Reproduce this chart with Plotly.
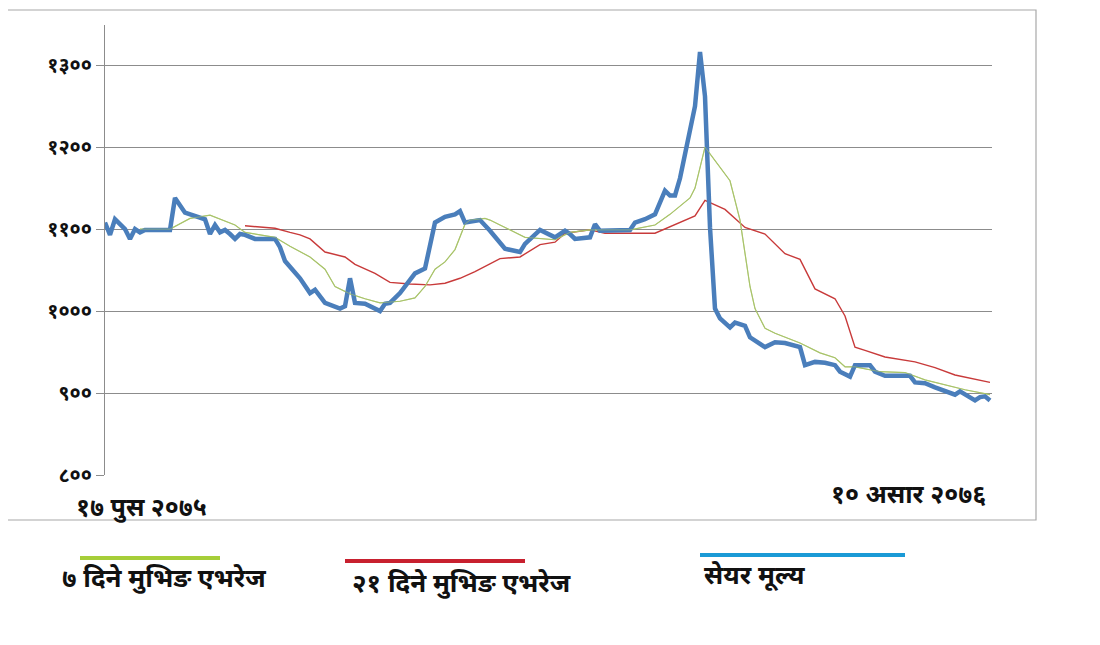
import plotly.graph_objects as go

# trading-day index along the x axis (17 Poush 2075 -> 10 Asar 2076)
price_days = [0, 1, 2, 4, 5, 6, 7, 8, 13, 14, 16, 19, 20, 21, 22, 23, 24, 25, 26, 27,
              28, 30, 34, 35, 36, 39, 41, 42, 44, 47, 48, 49, 50, 52, 55, 56, 57, 59,
              62, 64, 66, 68, 70, 71, 72, 75, 77, 80, 83, 84, 87, 90, 92, 93, 94, 97,
              98, 99, 105, 106, 108, 110, 112, 113, 114, 115, 117, 118, 119, 120, 121,
              122, 123, 125, 126, 128, 129, 132, 134, 136, 139, 140, 142, 144, 146,
              147, 149, 150, 153, 154, 156, 161, 162, 164, 166, 170, 171, 172, 174,
              175, 176, 177]
price = [1108, 1093, 1112, 1100, 1088, 1100, 1096, 1099, 1099, 1138, 1120, 1114, 1112,
         1094, 1105, 1096, 1099, 1094, 1088, 1094, 1093, 1088, 1088, 1078, 1061, 1040,
         1022, 1026, 1010, 1003, 1006, 1040, 1010, 1009, 1000, 1009, 1010, 1022, 1046,
         1052, 1108, 1115, 1118, 1122, 1108, 1111, 1098, 1076, 1072, 1082, 1099, 1090,
         1098, 1094, 1088, 1090, 1106, 1098, 1099, 1108, 1112, 1118, 1147, 1141, 1141,
         1162, 1222, 1250, 1316, 1262, 1102, 1003, 991, 980, 986, 982, 968, 956, 962,
         961, 956, 934, 938, 937, 934, 926, 920, 934, 934, 926, 921, 921, 913, 912, 907,
         898, 902, 898, 891, 895, 896, 891]

ma7_days = [7, 13, 17, 21, 26, 28, 34, 36, 37, 41, 44, 46, 49, 52, 55, 59, 62, 64, 66,
            68, 70, 72, 73, 76, 77, 79, 84, 90, 93, 97, 105, 110, 113, 117, 118, 120,
            125, 127, 129, 130, 132, 134, 139, 143, 146, 148, 150, 155, 160, 164, 169,
            172, 177]
ma7 = [1100, 1100, 1113, 1117, 1105, 1096, 1090, 1082, 1079, 1066, 1051, 1030, 1021,
       1015, 1010, 1012, 1016, 1030, 1051, 1060, 1075, 1106, 1111, 1113, 1111, 1105,
       1090, 1087, 1096, 1099, 1099, 1105, 1118, 1138, 1150, 1200, 1159, 1111, 1030,
       1003, 979, 973, 961, 949, 943, 932, 932, 926, 925, 916, 908, 904, 898]

ma21_days = [28, 34, 37, 39, 41, 44, 48, 50, 54, 57, 61, 65, 68, 71, 74, 79, 83, 87, 90,
             92, 97, 100, 110, 114, 118, 120, 124, 128, 132, 136, 139, 142, 146, 148,
             150, 152, 156, 162, 166, 170, 177]
ma21 = [1104, 1101, 1096, 1093, 1088, 1072, 1066, 1057, 1046, 1035, 1033, 1032, 1034,
        1040, 1048, 1064, 1066, 1081, 1084, 1095, 1099, 1095, 1095, 1106, 1116, 1135,
        1124, 1102, 1094, 1070, 1063, 1027, 1015, 994, 956, 952, 944, 938, 931, 922, 913]

y_ticks = [800, 900, 1000, 1100, 1200, 1300]
y_tick_text = ["<b>८००</b>", "<b>९००</b>", "<b>१०००</b>", "<b>११००</b>",
               "<b>१२००</b>", "<b>१३००</b>"]

series_names = ["७ दिने मुभिङ एभरेज", "२१ दिने मुभिङ एभरेज", "सेयर मूल्य"]
legend_colors = ["#a6ce39", "#c8202f", "#1a9ad6"]
start_label = "१७ पुस २०७५"
end_label = "१० असार २०७६"

W, H = 1100, 645
OFF = 8  # page body margin
L, R, T, B = 105, 992, 25, 475
DEV_FONT = "Noto Sans Devanagari, Lohit Devanagari, FreeSans, Noto Sans, sans-serif"


def px(x):
    return (x - L) / (R - L)


def py(y):
    return (B - y) / (B - T)


fig = go.Figure()
fig.add_trace(go.Scatter(x=ma21_days, y=ma21, mode="lines", name=series_names[1],
                         line=dict(color="#c83a3a", width=1.4)))
fig.add_trace(go.Scatter(x=ma7_days, y=ma7, mode="lines", name=series_names[0],
                         line=dict(color="#a9c46a", width=1.2)))
fig.add_trace(go.Scatter(x=price_days, y=price, mode="lines", name=series_names[2],
                         line=dict(color="#4a7ebb", width=4.5)))
# thin MA line shows faintly on top of the price line
fig.add_trace(go.Scatter(x=ma7_days, y=ma7, mode="lines", showlegend=False,
                         line=dict(color="#a9c46a", width=1), opacity=0.6))

shapes = [dict(type="rect", xref="paper", yref="paper",
               x0=px(-2), x1=px(1036), y0=py(520), y1=py(10),
               line=dict(color="#a8a8a8", width=1.2), layer="below")]
annotations = [
    dict(text="<b>" + start_label + "</b>", x=px(74), y=py(510),
         xanchor="left", yanchor="middle"),
    dict(text="<b>" + end_label + "</b>", x=px(988), y=py(497),
         xanchor="right", yanchor="middle"),
]
for a in annotations:
    a.update(xref="paper", yref="paper", showarrow=False,
             font=dict(family=DEV_FONT, size=25, color="#111"))

# hand-drawn style legend under the chart
legend_lines = [(80, 220, 558), (345, 525, 561), (700, 905, 555)]
legend_text = [(60, 581), (350, 586), (702, 578)]
for (x0, x1, yl), (tx, ty), name, col in zip(legend_lines, legend_text,
                                            series_names, legend_colors):
    shapes.append(dict(type="line", xref="paper", yref="paper",
                       x0=px(x0), x1=px(x1), y0=py(yl), y1=py(yl),
                       line=dict(color=col, width=4)))
    annotations.append(dict(text="<b>" + name + "</b>", xref="paper", yref="paper",
                            x=px(tx), y=py(ty), xanchor="left", yanchor="middle",
                            showarrow=False,
                            font=dict(family=DEV_FONT, size=26, color="#111")))

fig.update_layout(
    width=W, height=H,
    margin=dict(l=L - OFF, r=W - R + OFF, t=T - OFF, b=H - B + OFF),
    paper_bgcolor="white", plot_bgcolor="white",
    showlegend=False,
    shapes=shapes, annotations=annotations,
    xaxis=dict(range=[0, 177.4], showgrid=False, showticklabels=False,
               zeroline=False, showline=False, ticks=""),
    yaxis=dict(range=[800, 1349], tickvals=y_ticks, ticktext=y_tick_text,
               showgrid=True, gridcolor="#8c8c8c", gridwidth=1,
               showline=True, linecolor="#8c8c8c", linewidth=1,
               ticks="outside", ticklen=8, tickcolor="#8c8c8c",
               zeroline=False,
               tickfont=dict(family=DEV_FONT, size=20, color="#111")),
)

fig.write_html("out.html")
